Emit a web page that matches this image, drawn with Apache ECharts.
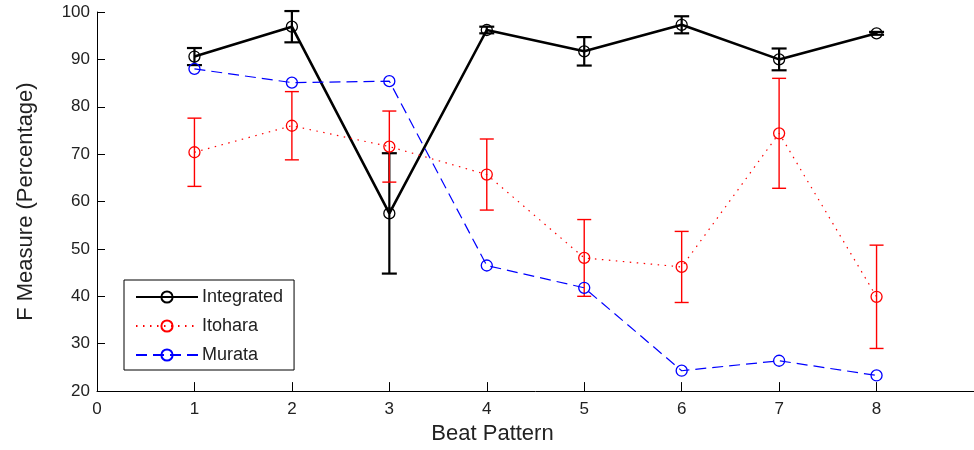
<!DOCTYPE html>
<html>
<head>
<meta charset="utf-8">
<script src="https://cdn.jsdelivr.net/npm/echarts@6/dist/echarts.min.js"></script>
<style>
  html, body { margin: 0; padding: 0; background: #fff; }
  #chart { width: 974px; height: 450px; }
</style>
</head>
<body>
<div id="chart"></div>
<script>
// beat patterns 1..8
const patterns = [1, 2, 3, 4, 5, 6, 7, 8];
const xTicks = [0, 1, 2, 3, 4, 5, 6, 7, 8];

// F measure (%) per method
const integrated    = [90.6, 96.9, 57.5, 96.2, 91.7, 97.3, 90.0, 95.5];
const integratedErr = [1.8, 3.3, 12.7, 0.7, 3.0, 1.8, 2.3, 0.3];
const itohara       = [70.4, 76.0, 71.6, 65.7, 48.1, 46.2, 74.4, 39.9];
const itoharaErr    = [7.2, 7.2, 7.5, 7.5, 8.1, 7.5, 11.6, 10.9];
const murata        = [88.0, 85.1, 85.4, 46.5, 41.8, 24.3, 26.4, 23.3];

const FONT = '"Liberation Sans", Arial, sans-serif';
const TEXT = '#222';

function pairs(ys) {
    return patterns.map((x, i) => [x, ys[i]]);
}

function errRows(ys, errs) {
    return patterns.map((x, i) => [x, ys[i] - errs[i], ys[i] + errs[i]]);
}

function errorBars(rows, color, width, cap) {
    return {
        type: 'custom',
        clip: false,
        silent: true,
        data: rows,
        encode: { x: 0, y: [1, 2] },
        renderItem: function (params, api) {
            const lo = api.coord([api.value(0), api.value(1)]);
            const hi = api.coord([api.value(0), api.value(2)]);
            const st = { stroke: color, lineWidth: width };
            return {
                type: 'group',
                children: [
                    { type: 'line', shape: { x1: lo[0], y1: lo[1], x2: hi[0], y2: hi[1] }, style: st },
                    { type: 'line', shape: { x1: lo[0] - cap, y1: lo[1], x2: lo[0] + cap, y2: lo[1] }, style: st },
                    { type: 'line', shape: { x1: hi[0] - cap, y1: hi[1], x2: hi[0] + cap, y2: hi[1] }, style: st }
                ]
            };
        }
    };
}

function lineSeries(name, ys, color, width, dash) {
    return {
        name: name,
        type: 'line',
        data: pairs(ys),
        clip: false,
        symbol: 'circle',
        symbolSize: 11,
        showAllSymbol: true,
        lineStyle: { color: color, width: width, type: dash },
        itemStyle: { color: 'rgba(0,0,0,0)', borderColor: color, borderWidth: 1.3 },
        emphasis: { disabled: true }
    };
}

const chart = echarts.init(document.getElementById('chart'), null, { renderer: 'canvas' });

chart.setOption({
    animation: false,
    backgroundColor: '#fff',
    grid: { left: 97, right: 0, top: 12, bottom: 56 },
    legend: {
        data: ['Integrated', 'Itohara', 'Murata'],
        orient: 'vertical',
        left: 124,
        top: 280,
        padding: [8, 11, 6, 11],
        itemWidth: 62,
        itemHeight: 14,
        itemGap: 11,
        borderColor: '#000',
        borderWidth: 1,
        backgroundColor: '#fff',
        selectedMode: false,
        textStyle: { fontFamily: FONT, fontSize: 18, color: TEXT, padding: [0, 0, 0, -1] }
    },
    xAxis: {
        type: 'value',
        min: 0,
        max: 9,
        interval: 1,
        name: 'Beat Pattern',
        nameLocation: 'middle',
        nameGap: 27,
        nameTextStyle: { fontFamily: FONT, fontSize: 22, color: TEXT, padding: [0, 86, 0, 0] },
        axisLine: { lineStyle: { color: '#000', width: 1 } },
        axisTick: { inside: true, length: 9, customValues: xTicks, lineStyle: { color: '#000' } },
        axisLabel: { customValues: xTicks, fontFamily: FONT, fontSize: 17, color: TEXT, margin: 10 },
        splitLine: { show: false }
    },
    yAxis: {
        type: 'value',
        min: 20,
        max: 100,
        interval: 10,
        name: 'F Measure (Percentage)',
        nameLocation: 'middle',
        nameGap: 60,
        nameTextStyle: { fontFamily: FONT, fontSize: 22, color: TEXT },
        axisLine: { show: true, lineStyle: { color: '#000', width: 1 } },
        axisTick: { show: true, inside: true, length: 8, lineStyle: { color: '#000' } },
        axisLabel: { fontFamily: FONT, fontSize: 17, color: TEXT, margin: 7 },
        splitLine: { show: false }
    },
    series: [
        errorBars(errRows(integrated, integratedErr), '#000', 2.2, 7.5),
        lineSeries('Integrated', integrated, '#000', 2.6, 'solid'),
        errorBars(errRows(itohara, itoharaErr), '#ff0000', 1.4, 7),
        lineSeries('Itohara', itohara, '#ff0000', 1.2, [1.5, 5.5]),
        lineSeries('Murata', murata, '#0000ff', 1.2, [11, 6])
    ]
});
</script>
</body>
</html>
